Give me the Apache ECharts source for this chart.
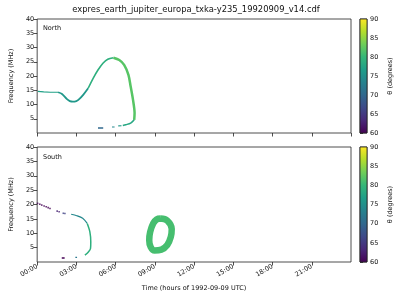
<!DOCTYPE html>
<html><head><meta charset="utf-8">
<script src="https://cdn.jsdelivr.net/npm/echarts@6/dist/echarts.min.js"></script>
<style>html,body{margin:0;padding:0;background:#fff}#c{width:400px;height:300px}</style>
</head><body><div id="c"></div>
<script>
// ---------- data ----------
const titleText = 'expres_earth_jupiter_europa_txka-y235_19920909_v14.cdf';
const panelNames = ['North', 'South'];
const timeTicks = ['00:00','03:00','06:00','09:00','12:00','15:00','18:00','21:00','24:00'];
const freqRange = [0, 40];
const thetaRange = [60, 90];
const xLabel = 'Time (hours of 1992-09-09 UTC)';
const yLabel = 'Frequency (MHz)';
const cbLabel = 'θ (degrees)';

// North hemisphere traces: [hour, MHz]
const northFlat = [[0.05,14.6],[0.5,14.4],[1.0,14.3],[1.6,14.3]];
const northDip = [[1.6,14.3],[1.9,13.7],[2.28,11.9],[2.5,11.2],[2.73,11.0],[3.0,11.2],[3.15,11.6],[3.52,13.4],[3.9,15.7]];
const northRise = [[3.9,15.7],[4.28,19.2],[4.65,22.1],[5.03,24.5],[5.4,25.9],[5.83,26.4]];
const northFall = [[5.83,26.4],[6.28,25.6],[6.65,23.9],[6.98,20.4],[7.15,16.3],[7.33,11.6],[7.45,7.0],[7.42,4.6]];
const northReturn = [[7.42,4.6],[7.15,3.5],[6.78,2.9],[6.55,2.6]];
const northDash1 = [[6.2,2.5],[6.45,2.55]];
const northDash2 = [[5.72,2.1],[5.92,2.1]];
const northDash3 = [[4.65,1.75],[5.05,1.75]];
const northTheta = [77, 76, 79, 82, 78, 76, 74, 70];

// South hemisphere traces
const southDots = [[0.03,20.4],[0.2,20.1],[0.35,19.8],[0.53,19.5],[0.69,19.2],[0.84,18.9],[0.98,18.6]];
const southDots2 = [[1.53,17.7],[1.68,17.5]];
const southDots3 = [[2.0,16.95],[2.12,16.85]];
const southUpper = [[2.6,16.6],[3.03,16.1],[3.48,15.2],[3.83,13.4]];
const southLower = [[3.83,13.4],[4.03,10.5],[4.1,7.0],[4.08,4.7],[3.9,3.4],[3.65,2.4]];
const southDash1 = [[2.92,1.6],[3.05,1.6]];
const southDash2 = [[1.88,1.4],[2.1,1.4]];
const southRing = [[9.43,15.1],[9.95,14.4],[10.29,11.5],[10.22,8.7],[9.95,5.9],[9.5,4.3],[8.98,4.0],[8.68,5.2],[8.57,7.6],[8.64,10.4],[8.87,13.4],[9.13,14.8],[9.43,15.1]];
const southTheta = [60, 63, 66, 74, 79, 72, 60, 81];

// ---------- styling helpers ----------
const VIRIDIS = ['#440154','#482878','#3e4989','#31688e','#26828e','#1f9e89','#35b779','#6ece58','#b5de2b','#fde725'];
function hex2rgb(h){return [1,3,5].map(i=>parseInt(h.substr(i,2),16));}
function viridis(theta){
  let t=(theta-thetaRange[0])/(thetaRange[1]-thetaRange[0]);
  t=Math.max(0,Math.min(1,t));
  const n=VIRIDIS.length-1, x=t*n, i=Math.min(Math.floor(x),n-1), f=x-i;
  const a=hex2rgb(VIRIDIS[i]), b=hex2rgb(VIRIDIS[i+1]);
  return 'rgb('+a.map((v,k)=>Math.round(v+(b[k]-v)*f)).join(',')+')';
}
const FONT = 'DejaVu Sans';
const grids = [
  {left:31, right:49, top:19, height:114},
  {left:31, right:49, top:147, height:115},
  {left:360, width:7, top:19, height:114},
  {left:360, width:7, top:147, height:115}
];
grids.forEach(g=>{g.show=true; g.borderColor='#222'; g.borderWidth=0.8; g.backgroundColor='transparent';});

function xAx(i, labels){
  return {gridIndex:i, type:'value', min:0, max:24, interval:3,
    axisLine:{show:false}, splitLine:{show:false},
    axisTick:{show:true, inside:false, length:3.5, lineStyle:{color:'#222', width:0.8}},
    axisLabel:{show:labels, rotate:30, fontSize:6.5, fontFamily:FONT, color:'#111', margin:4, showMaxLabel:false,
      formatter:v=>timeTicks[Math.round(v/3)]},
    name: labels ? xLabel : '', nameLocation:'middle', nameGap:23,
    nameTextStyle:{fontSize:6.5, fontFamily:FONT, color:'#111'}};
}
function yAx(i){
  return {gridIndex:i, type:'value', min:freqRange[0], max:freqRange[1], interval:5,
    axisLine:{show:false}, splitLine:{show:false},
    axisTick:{show:true, inside:false, length:3.5, lineStyle:{color:'#222', width:0.8}},
    axisLabel:{showMinLabel:false, fontSize:6.5, fontFamily:FONT, color:'#111', margin:3},
    name:yLabel, nameLocation:'middle', nameGap:17, nameRotate:90,
    nameTextStyle:{fontSize:6.5, fontFamily:FONT, color:'#111'}};
}
function cbX(i){return {gridIndex:i, type:'value', min:0, max:1, show:false};}
function cbY(i){
  return {gridIndex:i, type:'value', position:'right', min:thetaRange[0], max:thetaRange[1], interval:5,
    axisLine:{show:false}, splitLine:{show:false},
    axisTick:{show:true, inside:false, length:3, lineStyle:{color:'#222', width:0.8}},
    axisLabel:{fontSize:6.5, fontFamily:FONT, color:'#111', margin:3},
    name:cbLabel, nameLocation:'middle', nameGap:20, nameRotate:90,
    nameTextStyle:{fontSize:6.5, fontFamily:FONT, color:'#111'}};
}

const series = [];
function addLine(panel, data, theta, width, smooth){
  series.push({type:'line', xAxisIndex:panel, yAxisIndex:panel, data:data, showSymbol:false, symbol:'none',
    smooth: smooth || 0,
    lineStyle:{color:viridis(theta), width:width, cap:'butt', join:'round'},
    silent:true, animation:false, z:3});
}
function addDots(panel, data, theta){
  series.push({type:'scatter', xAxisIndex:panel, yAxisIndex:panel, data:data, symbol:'rect', symbolSize:1.6,
    itemStyle:{color:viridis(theta)}, silent:true, animation:false, z:3});
}
// North
addLine(0, northFlat, northTheta[0], 1.2);
addLine(0, northDip, northTheta[1], 1.8, 0.3);
addLine(0, northRise, northTheta[2], 1.6, 0.3);
addLine(0, northFall, northTheta[3], 2.5, 0.3);
addLine(0, northReturn, northTheta[4], 1.5, 0.3);
addLine(0, northDash1, northTheta[5], 1.1);
addLine(0, northDash2, northTheta[6], 1.1);
addLine(0, northDash3, northTheta[7], 1.3);
// South
addDots(1, southDots, southTheta[0]);
addDots(1, southDots2, southTheta[1]);
addDots(1, southDots3, southTheta[2]);
addLine(1, southUpper, southTheta[3], 1.2, 0.3);
addLine(1, southLower, southTheta[4], 1.5, 0.3);
addLine(1, southDash1, southTheta[5], 1.1);
addLine(1, southDash2, southTheta[6], 1.3);
addLine(1, southRing, southTheta[7], 6.5, 0.4);

// colorbars
const stops = VIRIDIS.map((c,i)=>({offset:i/(VIRIDIS.length-1), color:c}));
[2,3].forEach(gi=>{
  series.push({type:'custom', xAxisIndex:gi, yAxisIndex:gi, silent:true, animation:false,
    data:[[0, thetaRange[0], 1, thetaRange[1]]], encode:{x:[0,2], y:[1,3]},
    renderItem:(p,api)=>{
      const a=api.coord([api.value(0),api.value(1)]), b=api.coord([api.value(2),api.value(3)]);
      return {type:'rect', shape:{x:a[0], y:b[1], width:b[0]-a[0], height:a[1]-b[1]},
        style:{fill:new echarts.graphic.LinearGradient(0,1,0,0,stops), stroke:'#222', lineWidth:0.8}};
    }});
});

const chart = echarts.init(document.getElementById('c'), null, {renderer:'canvas'});
chart.setOption({
  animation:false,
  backgroundColor:'#fff',
  title:[
    {text:titleText, left:191, textAlign:'center', top:1, textStyle:{fontSize:8.4, fontWeight:'normal', fontFamily:FONT, color:'#111'}},
    {text:panelNames[0], left:38, top:20, textStyle:{fontSize:6.5, fontWeight:'normal', fontFamily:FONT, color:'#111'}},
    {text:panelNames[1], left:38, top:149, textStyle:{fontSize:6.5, fontWeight:'normal', fontFamily:FONT, color:'#111'}}
  ],
  grid:grids,
  xAxis:[xAx(0,false), xAx(1,true), cbX(2), cbX(3)],
  yAxis:[yAx(0), yAx(1), cbY(2), cbY(3)],
  series:series
});
</script></body></html>
